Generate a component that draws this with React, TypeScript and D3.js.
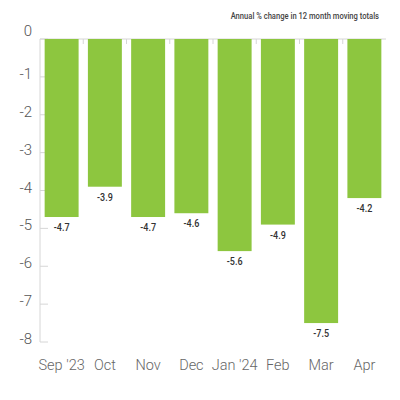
import React from 'react';
import * as d3 from 'd3';

const months = ["Sep '23", 'Oct', 'Nov', 'Dec', "Jan '24", 'Feb', 'Mar', 'Apr'];
const changes = [-4.7, -3.9, -4.7, -4.6, -5.6, -4.9, -7.5, -4.2];
const yTicks = [0, -1, -2, -3, -4, -5, -6, -7, -8];
const title = 'Annual % change in 12 month moving totals';

const W = 400;
const H = 400;
const left = 40;
const right = 386;
const top = 39;
const bottom = 342;

// condensed look: squeeze text horizontally around its anchor
const narrow = (cx: number, k: number) => `translate(${cx},0) scale(${k},1) translate(${-cx},0)`;

const App: React.FC = () => {
  const x = d3.scaleBand<string>().domain(months).range([left, right]).paddingInner(0.215).paddingOuter(0.1075);
  const y = d3.scaleLinear().domain([0, -8]).range([top, bottom]);
  const step = x.step();

  return (
    <svg width={W} height={H} style={{ position: 'absolute', left: 0, top: 0, background: '#fff' }}>
      <text x={379} y={19} textAnchor="end" transform={narrow(379, 0.8)} fontFamily="Roboto, 'Liberation Sans', sans-serif" fontWeight={500} fontSize={9.5} fill="#444">
        {title}
      </text>
      {/* y axis */}
      <line x1={left} x2={left} y1={top} y2={bottom} stroke="#d6d6d6" strokeWidth={1} />
      {yTicks.map(t => (
        <g key={t}>
          <line x1={left} x2={left + 8} y1={y(t)} y2={y(t)} stroke="#d6d6d6" strokeWidth={1} />
          <text x={32} y={y(t) + (t === 0 ? -3 : 2)} textAnchor="end" fontFamily="Roboto, 'Liberation Sans', sans-serif" fontWeight={300} fontSize={15} fill="#555">
            {t}
          </text>
        </g>
      ))}
      {/* zero line + category ticks */}
      <line x1={left} x2={right} y1={top} y2={top} stroke="#d6d6d6" strokeWidth={1} />
      {months.slice(1).map((m, i) => (
        <line key={m} x1={left + step * (i + 1)} x2={left + step * (i + 1)} y1={top} y2={top + 5} stroke="#d6d6d6" strokeWidth={1} />
      ))}
      {months.map((m, i) => {
        const cx = (x(m) as number) + x.bandwidth() / 2;
        return (
          <g key={m}>
            <rect x={x(m)} y={y(0)} width={x.bandwidth()} height={y(changes[i]) - y(0)} fill="#8dc63f" />
            <text x={cx} y={y(changes[i]) + 14} textAnchor="middle" transform={narrow(cx, 0.82)} fontFamily="Roboto, 'Liberation Sans', sans-serif" fontWeight={500} fontSize={11} fill="#333">
              {changes[i]}
            </text>
            <text x={cx} y={370} textAnchor="middle" fontFamily="Roboto, 'Liberation Sans', sans-serif" fontWeight={300} fontSize={14.5} fill="#666">
              {m}
            </text>
          </g>
        );
      })}
    </svg>
  );
};

export default App;
